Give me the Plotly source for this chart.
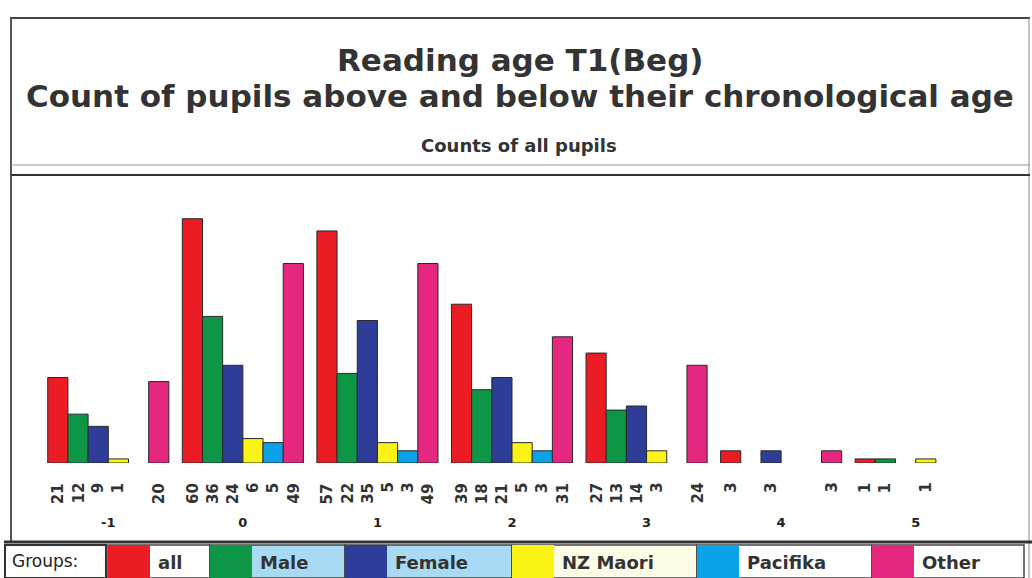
import plotly.graph_objects as go

# ---- data ----
groups = [-1, 0, 1, 2, 3, 4, 5]
series_names = ["all", "Male", "Female", "NZ Maori", "Pacifika", "Other"]
all_vals = [21, 60, 57, 39, 27, 3, 1]
male_vals = [12, 36, 22, 18, 13, 0, 1]
female_vals = [9, 24, 35, 21, 14, 3, 0]
maori_vals = [1, 6, 5, 5, 3, 0, 1]
pacifika_vals = [0, 5, 3, 3, 0, 0, 0]
other_vals = [20, 49, 49, 31, 24, 3, 0]

series_values = [all_vals, male_vals, female_vals, maori_vals, pacifika_vals, other_vals]
colors = ["#ec1c24", "#0e9647", "#2e3d98", "#fbf316", "#0aa3e8", "#e5277f"]
label_bgs = ["#ffffff", "#a9daf4", "#a9daf4", "#fcfce6", "#ffffff", "#ffffff"]

W, H = 1032, 578
ML, MR, MT, MB = 41, 49, 178, 115
PW, PH = W - ML - MR, H - MT - MB
BARGAP = 0.1
n = len(series_names)
bw = (1 - BARGAP) / n


def px(x):
    return (x - ML) / PW


def py(y):
    return (H - MB - y) / PH


fig = go.Figure()
for name, vals, col in zip(series_names, series_values, colors):
    fig.add_trace(go.Bar(
        x=groups, y=[v if v else None for v in vals], name=name,
        marker=dict(color=col, line=dict(color="#2a2a2a", width=1)),
        showlegend=False, hoverinfo="x+y+name",
    ))

annotations = []
# value labels below the axis (rotated)
for i, vals in enumerate(series_values):
    off = -(1 - BARGAP) / 2 + bw * (i + 0.5)
    for g, v in zip(groups, vals):
        if v:
            annotations.append(dict(
                x=g + off, y=0, xref="x", yref="y", text="<b>" + str(v) + "</b>", showarrow=False,
                textangle=-90, yanchor="top", xanchor="center", yshift=-18,
                font=dict(family="DejaVu Sans", size=15, color="#333333"),
            ))

# titles
annotations += [
    dict(x=px(520), y=py(60), xref="paper", yref="paper", xanchor="center", yanchor="middle",
         text="<b>Reading age T1(Beg)</b>", showarrow=False,
         font=dict(family="DejaVu Sans", size=31, color="#333333")),
    dict(x=px(520), y=py(96), xref="paper", yref="paper", xanchor="center", yanchor="middle",
         text="<b>Count of pupils above and below their chronological age</b>", showarrow=False,
         font=dict(family="DejaVu Sans", size=31, color="#333333")),
    dict(x=px(519), y=py(145), xref="paper", yref="paper", xanchor="center", yanchor="middle",
         text="<b>Counts of all pupils</b>", showarrow=False,
         font=dict(family="DejaVu Sans", size=18, color="#333333")),
]

shapes = []
# frame lines
shapes.append(dict(type="line", xref="paper", yref="paper", x0=px(10), x1=px(1030), y0=py(18), y1=py(18),
                   line=dict(color="#444444", width=2)))
shapes.append(dict(type="line", xref="paper", yref="paper", x0=px(11), x1=px(11), y0=py(18), y1=py(541),
                   line=dict(color="#555555", width=2)))
shapes.append(dict(type="line", xref="paper", yref="paper", x0=px(1029), x1=px(1029), y0=py(18), y1=py(578),
                   line=dict(color="#888888", width=1)))
shapes.append(dict(type="line", xref="paper", yref="paper", x0=px(11), x1=px(1030), y0=py(165), y1=py(165),
                   line=dict(color="#9a9a9a", width=1)))
shapes.append(dict(type="line", xref="paper", yref="paper", x0=px(11), x1=px(1030), y0=py(175), y1=py(175),
                   line=dict(color="#333333", width=2)))
shapes.append(dict(type="line", xref="paper", yref="paper", x0=px(4), x1=px(1032), y0=py(542), y1=py(542),
                   line=dict(color="#333333", width=3)))

# custom legend row
sw_starts = [108, 210, 345, 512, 697, 872]
sw_w = 42
ends = sw_starts[1:] + [1024]
ltop, lbot = 545, 578
shapes.append(dict(type="rect", xref="paper", yref="paper", x0=px(5), x1=px(106), y0=py(lbot), y1=py(ltop),
                   line=dict(color="#333333", width=2), fillcolor="#ffffff"))
annotations.append(dict(x=px(10), y=py(561), xref="paper", yref="paper", xanchor="left", yanchor="middle",
                        text="Groups:", showarrow=False,
                        font=dict(family="DejaVu Sans", size=17, color="#222222")))
for name, col, bg, s, e in zip(series_names, colors, label_bgs, sw_starts, ends):
    shapes.append(dict(type="rect", xref="paper", yref="paper", x0=px(s), x1=px(e), y0=py(lbot), y1=py(ltop),
                       line=dict(color="#444444", width=1.5), fillcolor=bg))
    shapes.append(dict(type="rect", xref="paper", yref="paper", x0=px(s), x1=px(s + sw_w), y0=py(lbot), y1=py(ltop),
                       line=dict(color=col, width=0), fillcolor=col))
    annotations.append(dict(x=px(s + sw_w + 6), y=py(562), xref="paper", yref="paper", xanchor="left",
                            yanchor="middle", text="<b>" + name + "</b>", showarrow=False,
                            font=dict(family="DejaVu Sans", size=18, color="#333333")))

fig.update_layout(
    width=W, height=H,
    margin=dict(l=ML, r=MR, t=MT, b=MB, pad=0),
    paper_bgcolor="#ffffff", plot_bgcolor="#ffffff",
    barmode="group", bargap=BARGAP, bargroupgap=0,
    xaxis=dict(range=[-1.5, 5.5], tickmode="array", tickvals=groups,
               ticktext=["<b>" + str(g) + "</b>" for g in groups],
               showgrid=False, zeroline=False, showline=False, ticks="",
               tickfont=dict(family="DejaVu Sans", size=13, color="#222222"),
               ticklabelstandoff=50),
    yaxis=dict(range=[0, 70], visible=False, showgrid=False, zeroline=False),
    annotations=annotations, shapes=shapes,
    font=dict(family="DejaVu Sans"),
)

fig.write_html("out.html")
